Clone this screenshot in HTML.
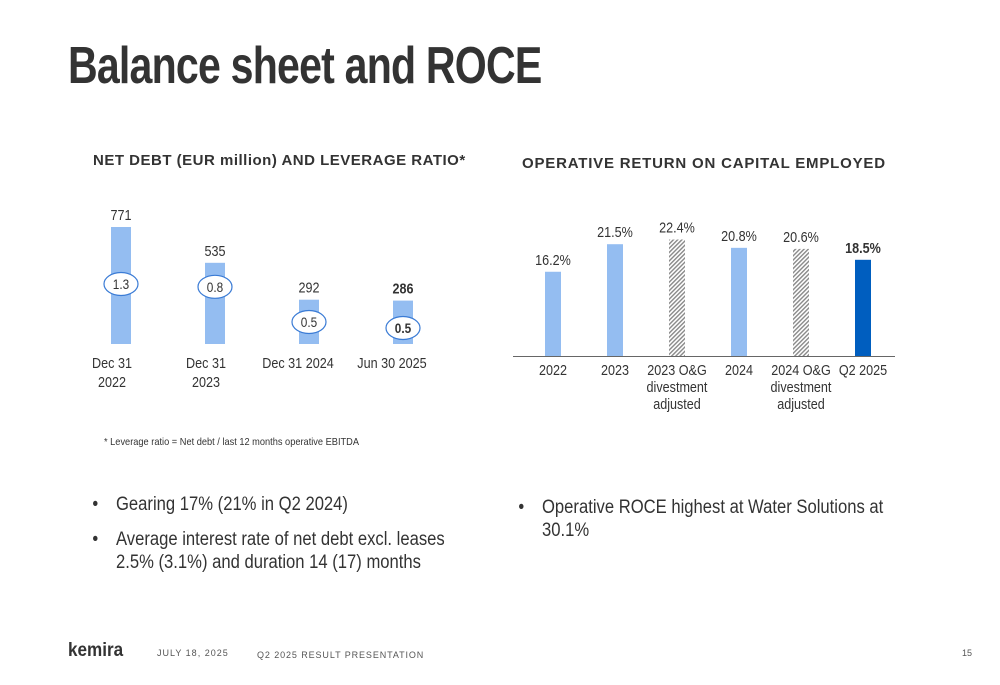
<!DOCTYPE html>
<html><head><meta charset="utf-8">
<style>
body{margin:0;background:#fff;}
#page{position:relative;width:1000px;height:685px;overflow:hidden;font-family:"Liberation Sans",sans-serif;color:#333;}
.t{position:absolute;white-space:nowrap;transform-origin:0 0;}
ul{margin:0;padding:0;list-style:none;}
li{position:relative;padding-left:32px;}
li:before{content:"•";position:absolute;left:5px;}
</style></head><body>
<div id="page">
<div class="t" style="left:68px;top:36px;font-size:52px;font-weight:bold;color:#333;letter-spacing:-1px;transform:scaleX(0.79);">Balance sheet and ROCE</div>
<div class="t" style="left:93px;top:152px;font-size:15px;font-weight:bold;letter-spacing:0.5px;color:#333;">NET DEBT (EUR million) AND LEVERAGE RATIO*</div>
<div class="t" style="left:522px;top:155px;font-size:15px;font-weight:bold;letter-spacing:0.8px;color:#333;">OPERATIVE RETURN ON CAPITAL EMPLOYED</div>
<svg id="chart" width="1000" height="685" style="position:absolute;left:0;top:0">
<defs><pattern id="hatch" width="3" height="3" patternUnits="userSpaceOnUse" patternTransform="rotate(45)"><rect width="3" height="3" fill="#fff"/><rect width="1.4" height="3" fill="#888"/></pattern></defs>
</svg>
<div class="t" style="left:104px;top:436px;font-size:10.5px;color:#333;transform:scaleX(0.88);">* Leverage ratio = Net debt / last 12 months operative EBITDA</div>
<ul class="t" style="left:88px;top:493px;font-size:19px;line-height:23px;color:#333;transform:scaleX(0.875);">
<li style="margin-bottom:12px">Gearing 17% (21% in Q2 2024)</li>
<li>Average interest rate of net debt excl. leases<br>2.5% (3.1%) and duration 14 (17) months</li>
</ul>
<ul class="t" style="left:514px;top:496px;font-size:19px;line-height:23px;color:#333;transform:scaleX(0.875);">
<li>Operative ROCE highest at Water Solutions at<br>30.1%</li>
</ul>
<div class="t" style="left:68px;top:640px;font-size:19px;font-weight:bold;color:#333;transform:scaleX(0.9);">kemira</div>
<div class="t" style="left:157px;top:648px;font-size:9px;letter-spacing:1px;color:#555;">JULY 18, 2025</div>
<div class="t" style="left:257px;top:650px;font-size:9px;letter-spacing:0.9px;color:#555;">Q2 2025 RESULT PRESENTATION</div>
<div class="t" style="left:962px;top:648px;font-size:9px;color:#555;">15</div>
</div>
<script>
const debtCategories=[["Dec 31","2022"],["Dec 31","2023"],["Dec 31 2024"],["Jun 30 2025"]];
const debtValues=[771,535,292,286];
const leverageValues=["1.3","0.8","0.5","0.5"];
const roceCategories=[["2022"],["2023"],["2023 O&G","divestment","adjusted"],["2024"],["2024 O&G","divestment","adjusted"],["Q2 2025"]];
const roceValues=[16.2,21.5,22.4,20.8,20.6,18.5];
const roceLabels=["16.2%","21.5%","22.4%","20.8%","20.6%","18.5%"];
const roceStyle=["solid","solid","hatch","solid","hatch","dark"];

const svg=document.getElementById('chart');
const NS='http://www.w3.org/2000/svg';
function mk(tag,attrs){const e=document.createElementNS(NS,tag);for(const k in attrs)e.setAttribute(k,attrs[k]);svg.appendChild(e);return e;}
function txt(x,y,s,size,bold){const e=mk('text',{x:x,y:y,'text-anchor':'middle','font-size':size,'font-family':'"Liberation Sans",sans-serif',fill:'#333'});if(bold)e.setAttribute('font-weight','bold');e.textContent=s;
  const w=e.getComputedTextLength();if(w>0){e.setAttribute('textLength',(w*0.84).toFixed(1));e.setAttribute('lengthAdjust','spacingAndGlyphs');}
  return e;}

// Net debt chart
const dBase=344,dScale=117/771;
const dx=i=>121+i*94;
const dy=v=>dBase-v*dScale;
debtValues.forEach((v,i)=>{
  const last=i===debtValues.length-1;
  const r=mk('rect',{x:dx(i)-10,y:dy(v),width:20,height:dBase-dy(v),fill:'#94bdf1'});
  
  
  const t=txt(dx(i),dy(v)-7,String(v),15,last);
  
  
  const cy=Math.min(Math.max(dy(v)+24,284),dBase-22)+(last?6:0);
  const el=mk('ellipse',{cx:dx(i),cy:cy,rx:17,ry:11.5,fill:'#fff',stroke:'#3a7bd5','stroke-width':1.2});
  
  
  const lt=txt(dx(i),cy+5,leverageValues[i],14,last);
  
  
  debtCategories[i].forEach((s,j)=>{
    const c=txt(dx(i)+(debtCategories[i].length===1?-11:-9),368+j*19,s,15,false);
    
    
  });
});

// ROCE chart
const rBase=356,rScale=5.2;
const rx=i=>553+i*62;
const ry=v=>rBase-v*rScale;
const ax=mk('line',{x1:513,y1:rBase+0.5,x2:895,y2:rBase+0.5,stroke:'#666','stroke-width':1});


roceValues.forEach((v,i)=>{
  const st=roceStyle[i];
  const fill=st==='hatch'?'url(#hatch)':st==='dark'?'#005ebf':'#94bdf1';
  const r=mk('rect',{x:rx(i)-8,y:ry(v),width:16,height:rBase-ry(v),fill:fill});
  
  
  const t=txt(rx(i),ry(v)-7,roceLabels[i],15,st==='dark');
  
  
  roceCategories[i].forEach((s,j)=>{
    const c=txt(rx(i),375+j*17,s,15,false);
    
    
  });
});
</script>
</body></html>
